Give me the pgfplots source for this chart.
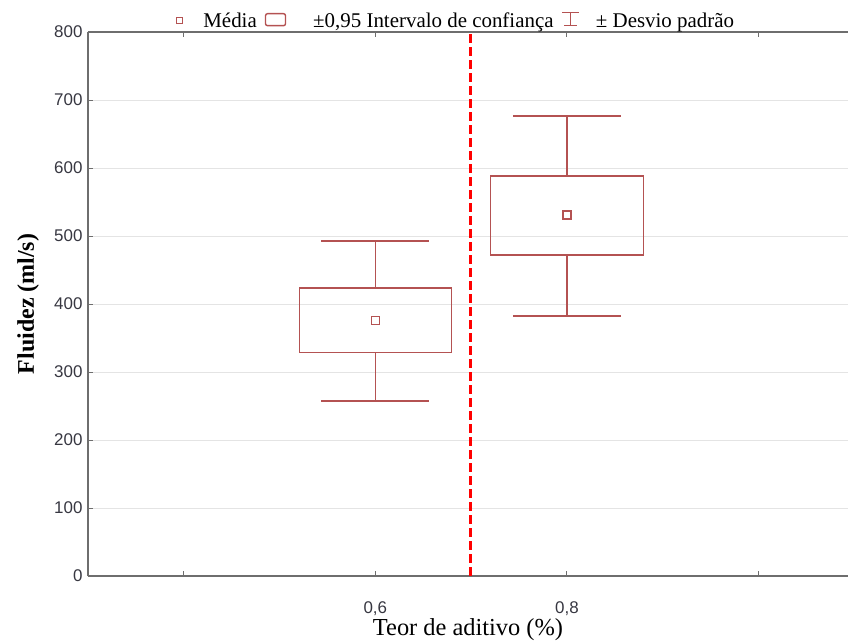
\documentclass[border=0pt]{standalone}
\usepackage{fontspec}
\setmainfont{Liberation Serif}
\newfontfamily\arialfont{Liberation Sans}
\usepackage{pgfplots}
\pgfplotsset{compat=1.18}
\definecolor{boxcol}{RGB}{180,82,82}
\definecolor{axcol}{RGB}{110,110,110}
\definecolor{gridcol}{RGB}{228,228,228}
\definecolor{ticklab}{RGB}{55,55,65}
\pgfplotsset{
  meanlegend/.style={legend image code/.code={\path (-2bp,0) (24bp,0); \draw[##1, fill=white] (0bp,-3bp) rectangle (6bp,3bp);}},
  boxlegend/.style={legend image code/.code={\path (0bp,0) (45bp,0); \draw[##1, rounded corners=2bp] (0bp,-5bp) rectangle (20bp,7bp);}},
  barlegend/.style={legend image code/.code={\path (0bp,0) (31bp,0); \draw[##1] (0bp,8bp)--(17bp,8bp) (8.5bp,8bp)--(8.5bp,-5bp) (2bp,-5bp)--(15bp,-5bp);}},
}
\begin{document}
\begin{tikzpicture}
\path[use as bounding box] (-88bp,-68bp) rectangle (760bp,576bp);
\begin{axis}[
  at={(0,0)}, anchor=south west,
  scale only axis, width=760bp, height=544bp,
  xmin=0.3, xmax=1.0935, ymin=0, ymax=800,
  axis x line*=box, axis y line*=left,
  axis line style={-, axcol, line width=1.3bp},
  xtick={0.4,0.6,0.8,1.0}, xticklabels={{},{0,6},{0,8},{}},
  ytick={0,100,...,800},
  xtick pos=both, ytick pos=left,
  tick align=inside, major tick length=5bp,
  tick style={axcol, line width=1bp},
  ymajorgrids, grid style={gridcol, line width=1bp},
  /pgf/number format/assume math mode=true,
  tick label style={font=\arialfont\fontsize{17}{19}\selectfont, text=ticklab},
  xticklabel style={yshift=-22bp},
  yticklabel style={xshift=-2bp},
  xlabel={Teor de aditivo (\%)},
  ylabel={\bfseries Fluidez (ml/s)},
  x label style={at={(axis description cs:0.5,0)}, anchor=center, yshift=-54bp, font=\fontsize{24.5}{28}\selectfont},
  y label style={at={(axis description cs:-0.0789,0.5)}, anchor=center, font=\fontsize{24}{28}\selectfont},
  legend style={at={(axis description cs:0.483,1)}, anchor=south, draw=none, fill=none,
    inner sep=1bp, font=\fontsize{21}{24}\selectfont, legend columns=3,
    /tikz/every even column/.append style={column sep=6bp}},
  legend cell align=left,
]
% confidence boxes
\addplot[boxcol, line width=1.5bp, forget plot] coordinates {(0.5206,329) (0.6794,329) (0.6794,423.5) (0.5206,423.5) (0.5206,329)};
\addplot[boxcol, line width=1.5bp, forget plot] coordinates {(0.7201,472) (0.8799,472) (0.8799,588) (0.7201,588) (0.7201,472)};
% whiskers
\addplot[boxcol, line width=1.5bp, forget plot] coordinates {(0.6,423.5) (0.6,492.6)};
\addplot[boxcol, line width=1.5bp, forget plot] coordinates {(0.6,329) (0.6,257)};
\addplot[boxcol, line width=1.5bp, forget plot] coordinates {(0.5436,492.6) (0.6564,492.6)};
\addplot[boxcol, line width=1.5bp, forget plot] coordinates {(0.5436,257) (0.6564,257)};
\addplot[boxcol, line width=1.5bp, forget plot] coordinates {(0.8,588) (0.8,676.5)};
\addplot[boxcol, line width=1.5bp, forget plot] coordinates {(0.8,472) (0.8,382)};
\addplot[boxcol, line width=1.5bp, forget plot] coordinates {(0.7436,676.5) (0.8564,676.5)};
\addplot[boxcol, line width=1.5bp, forget plot] coordinates {(0.7436,382) (0.8564,382)};
% means
\addplot[only marks, mark=square, mark size=4bp, boxcol, mark options={fill=white, line width=1.4bp}, forget plot] coordinates {(0.6,376) (0.8,531)};
% dashed divider
\addplot[red, line width=3.2bp, dash pattern=on 9bp off 4bp, forget plot] coordinates {(0.6995,0) (0.6995,800)};
% legend
\addlegendimage{boxcol, line width=1.3bp, meanlegend}
\addlegendentry{Média}
\addlegendimage{boxcol, line width=1.4bp, boxlegend}
\addlegendentry{±0,95 Intervalo de confiança}
\addlegendimage{boxcol, line width=1.4bp, barlegend}
\addlegendentry{± Desvio padrão}
\end{axis}
\end{tikzpicture}
\end{document}
